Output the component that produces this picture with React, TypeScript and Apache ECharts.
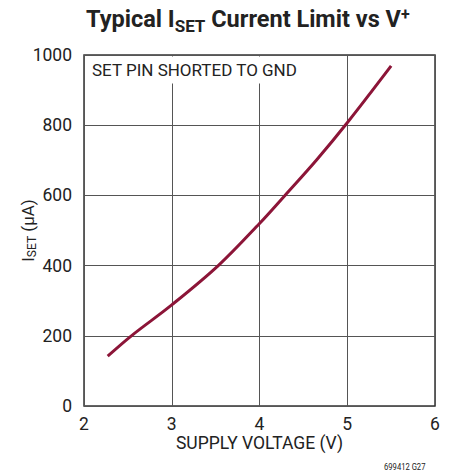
import React, { useEffect, useRef } from "react";
import * as echarts from "echarts";

const supplyVoltage = [2.27, 2.54, 3.0, 3.53, 4.0, 4.29, 4.65, 5.0, 5.5];
const isetCurrent = [142, 200, 288, 400, 520, 600, 701, 807, 969];
const xTicks = [2, 3, 4, 5, 6];
const yTicks = [0, 200, 400, 600, 800, 1000];

const FONT = "Roboto, 'Liberation Sans', sans-serif";

export default function App() {
  const ref = useRef<HTMLDivElement>(null);
  useEffect(() => {
    if (!ref.current) return;
    const chart = echarts.init(ref.current, null, { renderer: "svg" });
    const data = supplyVoltage.map((v, i) => [v, isetCurrent[i]]);
    chart.setOption({
      animation: false,
      backgroundColor: "#ffffff",
      textStyle: { fontFamily: FONT },
      grid: {
        left: 84,
        top: 55,
        width: 351,
        height: 351,
        outerBoundsMode: "none",
        containLabel: false,
        show: true,
        borderColor: "#333",
        borderWidth: 1.5,
        backgroundColor: "transparent",
      },
      xAxis: {
        type: "value",
        min: xTicks[0],
        max: xTicks[xTicks.length - 1],
        interval: 1,
        name: "SUPPLY VOLTAGE (V)",
        nameLocation: "middle",
        nameGap: 28,
        nameMoveOverlap: false,
        nameTextStyle: { fontFamily: FONT, fontSize: 17.5, color: "#222" },
        axisLine: { show: false },
        axisTick: { show: false },
        axisLabel: { fontFamily: FONT, fontSize: 17.5, color: "#222", margin: 9 },
        splitLine: { show: true, lineStyle: { color: "#555", width: 1 } },
      },
      yAxis: {
        type: "value",
        min: yTicks[0],
        max: yTicks[yTicks.length - 1],
        interval: 200,
        name: "{n|I}{s|SET}{n| (µA)}",
        nameLocation: "middle",
        nameGap: 46,
        nameMoveOverlap: false,
        nameTextStyle: {
          rich: {
            n: { fontFamily: FONT, fontSize: 17, color: "#222" },
            s: { fontFamily: FONT, fontSize: 12, color: "#222", padding: [9, 0, 0, 0] },
          },
        },
        axisLine: { show: false },
        axisTick: { show: false },
        axisLabel: {
          fontFamily: FONT,
          fontSize: 17.5,
          color: "#222",
          margin: 12,
          formatter: (v: number) => String(v),
        },
        splitLine: { show: true, lineStyle: { color: "#555", width: 1 } },
      },
      graphic: [
        {
          type: "text",
          z: 51,
          x: 86,
          y: 19,
          style: {
            text: "{n|Typical I}{s|SET}{n| Current Limit vs V}{p|+}",
            fill: "#222",
            textVerticalAlign: "middle",
            rich: {
              n: { fontFamily: FONT, fontSize: 23.5, fontWeight: "bold", fill: "#222" },
              s: { fontFamily: FONT, fontSize: 17, fontWeight: "bold", fill: "#222", padding: [14, 0, 0, 0] },
              p: { fontFamily: FONT, fontSize: 16, fontWeight: "bold", fill: "#222", padding: [0, 0, 10, 0] },
            },
          },
        },
        {
          type: "rect",
          z: 50,
          shape: { x: 85, y: 56.5, width: 225, height: 27 },
          style: { fill: "#ffffff" },
        },
        {
          type: "text",
          z: 51,
          x: 92,
          y: 70,
          style: {
            text: "SET PIN SHORTED TO GND",
            font: `17px ${FONT}`,
            fill: "#222",
            textVerticalAlign: "middle",
          },
        },
        {
          type: "text",
          z: 51,
          x: 384,
          y: 467,
          scaleX: 0.85,
          style: {
            text: "699412 G27",
            font: `9px ${FONT}`,
            fill: "#222",
            textVerticalAlign: "middle",
          },
        },
      ],
      series: [
        {
          type: "line",
          data,
          smooth: 0.35,
          showSymbol: false,
          symbol: "none",
          z: 60,
          lineStyle: { color: "#8c1538", width: 3 },
        },
      ],
    });
    return () => chart.dispose();
  }, []);
  return <div ref={ref} style={{ width: 461, height: 475, position: "absolute", left: 0, top: 0 }} />;
}
